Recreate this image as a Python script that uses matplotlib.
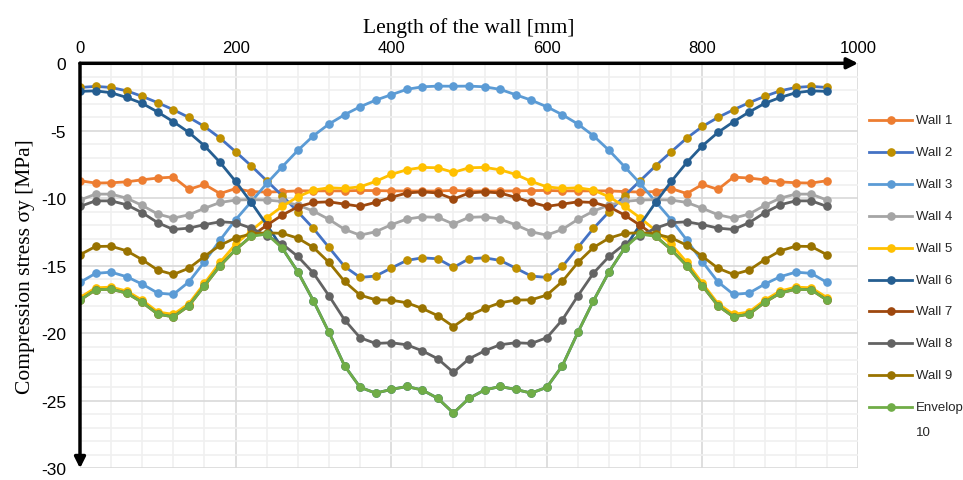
import matplotlib.pyplot as plt
from matplotlib.lines import Line2D
import numpy as np

plt.rcParams['axes.unicode_minus'] = False

# positions along the wall [mm]
length = np.arange(0, 961, 20)

wall_1 = [-8.70, -8.87, -8.85, -8.78, -8.63, -8.50, -8.43, -9.34, -8.97, -9.65, -9.28, -9.50, -9.54,
          -9.50, -9.45, -9.45, -9.45, -9.45, -9.42, -9.43, -9.45, -9.46, -9.46, -9.46, -9.42,
          -9.46, -9.46, -9.46, -9.45, -9.43, -9.42, -9.45, -9.45, -9.45, -9.45, -9.50, -9.54,
          -9.50, -9.28, -9.65, -8.97, -9.34, -8.43, -8.50, -8.63, -8.78, -8.85, -8.87, -8.70]
wall_2 = [-1.79, -1.71, -1.79, -2.04, -2.45, -2.92, -3.44, -4.01, -4.68, -5.54, -6.55, -7.59, -8.70,
          -9.81, -11.00, -12.23, -13.64, -15.05, -15.86, -15.76, -15.17, -14.60, -14.41, -14.48, -15.12,
          -14.48, -14.41, -14.60, -15.17, -15.76, -15.86, -15.05, -13.64, -12.23, -11.00, -9.81, -8.70,
          -7.59, -6.55, -5.54, -4.68, -4.01, -3.44, -2.92, -2.45, -2.04, -1.79, -1.71, -1.79]
wall_3 = [-16.23, -15.56, -15.47, -15.81, -16.36, -17.02, -17.12, -16.19, -14.70, -13.10, -11.59, -10.26, -8.90,
          -7.66, -6.45, -5.37, -4.50, -3.81, -3.22, -2.73, -2.33, -1.93, -1.74, -1.69, -1.70,
          -1.69, -1.74, -1.93, -2.33, -2.73, -3.22, -3.81, -4.50, -5.37, -6.45, -7.66, -8.90,
          -10.26, -11.59, -13.10, -14.70, -16.19, -17.12, -17.02, -16.36, -15.81, -15.47, -15.56, -16.23]
wall_4 = [-10.13, -9.69, -9.69, -9.99, -10.53, -11.17, -11.47, -11.22, -10.74, -10.31, -10.13, -10.10, -10.13,
          -10.23, -10.50, -10.95, -11.56, -12.30, -12.73, -12.48, -11.96, -11.54, -11.37, -11.41, -11.91,
          -11.41, -11.37, -11.54, -11.96, -12.48, -12.73, -12.30, -11.56, -10.95, -10.50, -10.23, -10.13,
          -10.10, -10.13, -10.31, -10.74, -11.22, -11.47, -11.17, -10.53, -9.99, -9.69, -9.69, -10.13]
wall_5 = [-17.35, -16.63, -16.58, -16.87, -17.55, -18.42, -18.60, -17.80, -16.30, -14.75, -13.40, -12.40, -11.45,
          -10.60, -9.89, -9.39, -9.22, -9.27, -9.15, -8.75, -8.23, -7.89, -7.71, -7.74, -8.08,
          -7.74, -7.71, -7.89, -8.23, -8.75, -9.15, -9.27, -9.22, -9.39, -9.89, -10.60, -11.45,
          -12.40, -13.40, -14.75, -16.30, -17.80, -18.60, -18.42, -17.55, -16.87, -16.58, -16.63, -17.35]
wall_6 = [-2.08, -2.04, -2.18, -2.53, -2.97, -3.61, -4.33, -5.12, -6.11, -7.34, -8.75, -10.30, -11.96,
          -13.69, -15.45, -17.59, -19.93, -22.40, -24.00, -24.43, -24.16, -23.94, -24.20, -24.82, -25.91,
          -24.82, -24.20, -23.94, -24.16, -24.43, -24.00, -22.40, -19.93, -17.59, -15.45, -13.69, -11.96,
          -10.30, -8.75, -7.34, -6.11, -5.12, -4.33, -3.61, -2.97, -2.53, -2.18, -2.04, -2.08]
wall_7 = [-17.54, -16.78, -16.73, -17.02, -17.71, -18.58, -18.78, -17.96, -16.48, -15.00, -13.81, -12.82, -12.00,
          -11.24, -10.63, -10.31, -10.26, -10.43, -10.60, -10.30, -9.93, -9.61, -9.52, -9.61, -10.06,
          -9.61, -9.52, -9.61, -9.93, -10.30, -10.60, -10.43, -10.26, -10.31, -10.63, -11.24, -12.00,
          -12.82, -13.81, -15.00, -16.48, -17.96, -18.78, -18.58, -17.71, -17.02, -16.73, -16.78, -17.54]
wall_8 = [-10.60, -10.19, -10.19, -10.48, -11.07, -11.81, -12.31, -12.21, -11.95, -11.74, -11.81, -12.21, -12.78,
          -13.39, -14.31, -15.54, -17.22, -19.00, -20.33, -20.75, -20.70, -20.85, -21.30, -21.89, -22.90,
          -21.89, -21.30, -20.85, -20.70, -20.75, -20.33, -19.00, -17.22, -15.54, -14.31, -13.39, -12.78,
          -12.21, -11.81, -11.74, -11.95, -12.21, -12.31, -11.81, -11.07, -10.48, -10.19, -10.19, -10.60]
wall_9 = [-14.18, -13.57, -13.55, -13.89, -14.55, -15.32, -15.64, -15.18, -14.30, -13.48, -12.93, -12.65, -12.55,
          -12.60, -12.95, -13.64, -14.75, -16.16, -17.17, -17.52, -17.54, -17.74, -18.16, -18.70, -19.50,
          -18.70, -18.16, -17.74, -17.54, -17.52, -17.17, -16.16, -14.75, -13.64, -12.95, -12.60, -12.55,
          -12.65, -12.93, -13.48, -14.30, -15.18, -15.64, -15.32, -14.55, -13.89, -13.55, -13.57, -14.18]
envelope = [-17.54, -16.78, -16.73, -17.02, -17.71, -18.58, -18.78, -17.96, -16.48, -15.00, -13.81, -12.82, -12.65,
            -13.69, -15.45, -17.59, -19.93, -22.40, -24.00, -24.43, -24.16, -23.94, -24.20, -24.82, -25.91,
            -24.82, -24.20, -23.94, -24.16, -24.43, -24.00, -22.40, -19.93, -17.59, -15.45, -13.69, -12.65,
            -12.82, -13.81, -15.00, -16.48, -17.96, -18.78, -18.58, -17.71, -17.02, -16.73, -16.78, -17.54]

series = [wall_1, wall_2, wall_3, wall_4, wall_5, wall_6, wall_7, wall_8, wall_9, envelope]
labels = ['Wall 1', 'Wall 2', 'Wall 3', 'Wall 4', 'Wall 5', 'Wall 6', 'Wall 7', 'Wall 8', 'Wall 9',
          'Envelop\n10']
line_colors = ['#ED7D31', '#4472C4', '#5B9BD5', '#A5A5A5', '#FFC000', '#255E91', '#9E480E',
               '#636363', '#997300', '#70AD47']
marker_colors = ['#ED7D31', '#BF9000', '#5B9BD5', '#A5A5A5', '#FFC000', '#255E91', '#9E480E',
                 '#636363', '#997300', '#70AD47']

W, H = 963, 481
fig = plt.figure(figsize=(W / 100, H / 100), dpi=100)
ax = fig.add_axes([80 / W, 1 - 469.3 / H, 778 / W, 405 / H])

for vals, lc, mc in zip(series, line_colors, marker_colors):
    ax.plot(length, vals, color=lc, lw=2.0, marker='o', ms=5.2,
            markerfacecolor=mc, markeredgecolor=mc)

ax.set_xlim(0, 1000)
ax.set_ylim(-30, 0)
ax.set_xticks(np.arange(0, 1001, 200))
ax.set_xticks(np.arange(0, 1001, 40), minor=True)
ax.set_yticks(np.arange(-30, 1, 5))
ax.set_yticks(np.arange(-30, 1, 1), minor=True)
ax.grid(which='major', color='#D9D9D9', lw=1.2)
ax.grid(which='minor', color='#F0F0F0', lw=1.2)
ax.set_axisbelow(True)

ax.xaxis.tick_top()
ax.xaxis.set_label_position('top')
ax.tick_params(which='both', length=0)
ax.tick_params(axis='x', pad=6, labelsize=12)
ax.tick_params(axis='y', pad=10, labelsize=12.5)
for t in ax.get_xticklabels() + ax.get_yticklabels():
    t.set_family('Liberation Sans')

ax.set_xlabel('Length of the wall [mm]', family='Liberation Serif', fontsize=15.5, labelpad=6)
ax.set_ylabel('Compression stress σy [MPa]', family='Liberation Serif', fontsize=15.5, labelpad=4)

for s in ax.spines.values():
    s.set_visible(False)

# axis arrows
ax.annotate('', xy=(1.0, 1.0), xytext=(0, 1.0), xycoords='axes fraction',
            arrowprops=dict(arrowstyle='-|>', lw=2.5, color='black', mutation_scale=16,
                            shrinkA=0, shrinkB=0))
ax.annotate('', xy=(0, 0.0), xytext=(0, 1.0), xycoords='axes fraction',
            arrowprops=dict(arrowstyle='-|>', lw=2.5, color='black', mutation_scale=16,
                            shrinkA=0, shrinkB=0))

# legend drawn by hand so that the two-line entry lines up like the original
for i, (lab, lc, mc) in enumerate(zip(labels, line_colors, marker_colors)):
    yy = 1 - (121 + 31.9 * i) / H
    fig.add_artist(Line2D([869 / W, 912 / W], [yy, yy], color=lc, lw=2.0))
    fig.add_artist(Line2D([890.5 / W], [yy], marker='o', ms=5.2, color=mc, lw=0))
    for k, part in enumerate(lab.split('\n')):
        fig.text(916 / W, yy - k * 25 / H, part, family='Liberation Sans', fontsize=9.5,
                 va='center', ha='left', color='#262626')

fig.savefig('out.png', dpi=100)
